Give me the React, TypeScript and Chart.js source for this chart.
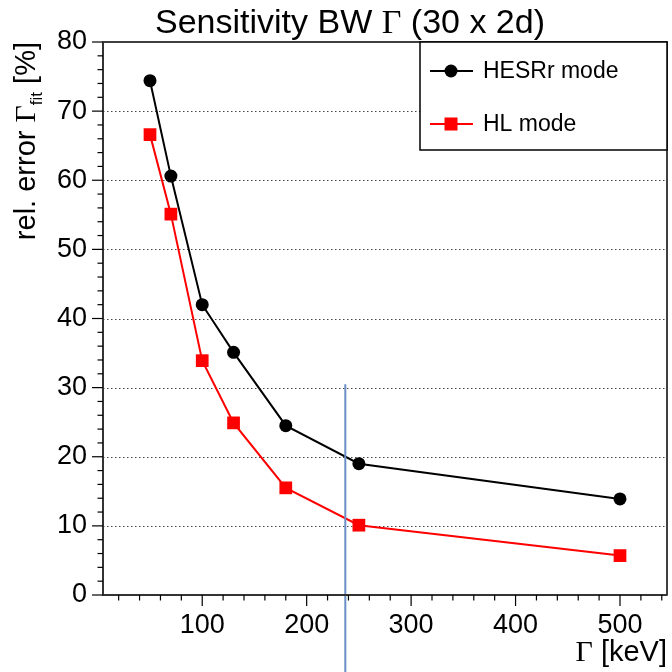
import React, { useEffect, useRef } from "react";
import { Chart, registerables } from "chart.js";

Chart.register(...registerables);

// ---- data ----
const GAMMA_KEV = [50, 70, 100, 130, 180, 250, 500];
const HESRR_MODE = [74.4, 60.6, 42.0, 35.1, 24.5, 19.0, 13.9];
const HL_MODE = [66.6, 55.1, 33.9, 24.9, 15.5, 10.1, 5.7];
const X_TICKS = [100, 200, 300, 400, 500];
const Y_TICKS = [0, 10, 20, 30, 40, 50, 60, 70, 80];
const CUT_LINE = { x: 237, yTop: 30.5, yBottom: -12 };
const SERIES_NAMES = ["HESRr mode", "HL mode"];

const SANS = "'Liberation Sans', Arial, Helvetica, sans-serif";
const SERIF = "'Liberation Serif', 'DejaVu Serif', serif";

type Seg = { t: string; font: string; dy?: number };

function segWidth(ctx: CanvasRenderingContext2D, segs: Seg[]) {
  let w = 0;
  for (const s of segs) {
    ctx.font = s.font;
    w += ctx.measureText(s.t).width;
  }
  return w;
}
function drawSegs(ctx: CanvasRenderingContext2D, segs: Seg[], x: number, y: number) {
  let cx = x;
  ctx.textAlign = "left";
  ctx.textBaseline = "alphabetic";
  for (const s of segs) {
    ctx.font = s.font;
    ctx.fillText(s.t, cx, y + (s.dy || 0));
    cx += ctx.measureText(s.t).width;
  }
}

const rootDecor = {
  id: "rootDecor",
  beforeDraw(chart: any) {
    const { ctx, width, height } = chart;
    ctx.save();
    ctx.fillStyle = "#ffffff";
    ctx.fillRect(0, 0, width, height);
    ctx.restore();
  },
  beforeDatasetsDraw(chart: any) {
    const { ctx, chartArea: a, scales } = chart;
    const ys = scales.y;
    ctx.save();
    ctx.strokeStyle = "#444";
    ctx.lineWidth = 1;
    ctx.setLineDash([1.5, 2.5]);
    for (const v of Y_TICKS) {
      if (v === 0 || v === 80) continue;
      const py = Math.round(ys.getPixelForValue(v)) + 0.5;
      ctx.beginPath();
      ctx.moveTo(a.left, py);
      ctx.lineTo(a.right, py);
      ctx.stroke();
    }
    ctx.restore();
  },
  afterDatasetsDraw(chart: any) {
    const { ctx, chartArea: a, scales } = chart;
    const xs = scales.x;
    const ys = scales.y;
    ctx.save();

    // cut line
    ctx.strokeStyle = "#6a8fc6";
    ctx.lineWidth = 2;
    const cx = xs.getPixelForValue(CUT_LINE.x);
    ctx.beginPath();
    ctx.moveTo(cx, ys.getPixelForValue(CUT_LINE.yBottom));
    ctx.lineTo(cx, ys.getPixelForValue(CUT_LINE.yTop));
    ctx.stroke();

    // frame
    ctx.strokeStyle = "#000";
    ctx.lineWidth = 1.5;
    ctx.strokeRect(a.left, a.top, a.right - a.left, a.bottom - a.top);
    ctx.strokeStyle = "#333";
    ctx.lineWidth = 2;
    ctx.beginPath();
    ctx.moveTo(a.left, a.top);
    ctx.lineTo(a.left, a.bottom);
    ctx.lineTo(a.right, a.bottom);
    ctx.stroke();

    // x ticks (major every 100, minor every 20), pointing down
    ctx.lineWidth = 1.2;
    ctx.strokeStyle = "#000";
    for (let v = 20; v <= 540; v += 20) {
      const px = xs.getPixelForValue(v);
      const len = v % 100 === 0 ? 11 : 5.5;
      ctx.beginPath();
      ctx.moveTo(px, a.bottom);
      ctx.lineTo(px, a.bottom + len);
      ctx.stroke();
    }
    // y ticks (major every 10, minor every 2), pointing left
    for (let v = 0; v <= 80; v += 2) {
      const py = ys.getPixelForValue(v);
      const len = v % 10 === 0 ? 11 : 5.5;
      ctx.beginPath();
      ctx.moveTo(a.left, py);
      ctx.lineTo(a.left - len, py);
      ctx.stroke();
    }

    ctx.fillStyle = "#000";
    // title
    const titleSegs: Seg[] = [
      { t: "Sensitivity BW ", font: `34px ${SANS}` },
      { t: "Γ", font: `34px ${SERIF}` },
      { t: " (30 x 2d)", font: `34px ${SANS}` },
    ];
    const tw = segWidth(ctx, titleSegs);
    drawSegs(ctx, titleSegs, 350 - tw / 2, 33);

    // x title
    const xSegs: Seg[] = [
      { t: "Γ", font: `30px ${SERIF}` },
      { t: " [keV]", font: `29px ${SANS}` },
    ];
    const xw = segWidth(ctx, xSegs);
    drawSegs(ctx, xSegs, 667 - xw, 661);

    // y title (rotated)
    const ySegs: Seg[] = [
      { t: "rel. error ", font: `29px ${SANS}` },
      { t: "Γ", font: `30px ${SERIF}` },
      { t: "fit", font: `17px ${SANS}`, dy: 7 },
      { t: " [%]", font: `29px ${SANS}` },
    ];
    const yw = segWidth(ctx, ySegs);
    ctx.save();
    ctx.translate(35, 42);
    ctx.rotate(-Math.PI / 2);
    drawSegs(ctx, ySegs, -yw, 0);
    ctx.restore();

    // legend
    const L = { x: 420, y: a.top, w: a.right - 420, h: 150 - a.top };
    ctx.fillStyle = "#fff";
    ctx.fillRect(L.x, L.y, L.w, L.h);
    ctx.strokeStyle = "#000";
    ctx.lineWidth = 1.5;
    ctx.strokeRect(L.x, L.y, L.w, L.h);
    const entries = [
      { name: SERIES_NAMES[0], color: "#000000", style: "circle", y: 71 },
      { name: SERIES_NAMES[1], color: "#ff0000", style: "rect", y: 124 },
    ];
    for (const e of entries) {
      ctx.strokeStyle = e.color;
      ctx.lineWidth = 2;
      ctx.beginPath();
      ctx.moveTo(430, e.y);
      ctx.lineTo(473, e.y);
      ctx.stroke();
      ctx.fillStyle = e.color;
      if (e.style === "circle") {
        ctx.beginPath();
        ctx.arc(451, e.y, 6.5, 0, Math.PI * 2);
        ctx.fill();
      } else {
        ctx.fillRect(451 - 6.5, e.y - 6.5, 13, 13);
      }
      ctx.fillStyle = "#000";
      ctx.font = `23px ${SANS}`;
      ctx.textAlign = "left";
      ctx.textBaseline = "middle";
      ctx.fillText(e.name, 483, e.y + 1);
    }
    ctx.restore();
  },
};

export default function App() {
  const ref = useRef<HTMLCanvasElement | null>(null);
  useEffect(() => {
    document.body.style.margin = "0";
    const canvas = ref.current!;
    const chart = new Chart(canvas, {
      type: "line",
      data: {
        datasets: [
          {
            label: SERIES_NAMES[0],
            data: GAMMA_KEV.map((x, i) => ({ x, y: HESRR_MODE[i] })),
            borderColor: "#000000",
            backgroundColor: "#000000",
            borderWidth: 2,
            pointStyle: "circle",
            pointRadius: 6.5,
            pointBorderWidth: 0,
            tension: 0,
          },
          {
            label: SERIES_NAMES[1],
            data: GAMMA_KEV.map((x, i) => ({ x, y: HL_MODE[i] })),
            borderColor: "#ff0000",
            backgroundColor: "#ff0000",
            borderWidth: 2,
            pointStyle: "rect",
            pointRadius: 9,
            pointBorderWidth: 0,
            tension: 0,
          },
        ],
      },
      options: {
        responsive: false,
        animation: false,
        devicePixelRatio: 1,
        layout: { autoPadding: false, padding: { top: 42, right: 5, left: 0, bottom: 0 } },
        plugins: { legend: { display: false }, title: { display: false }, tooltip: { enabled: false } },
        scales: {
          x: {
            type: "linear",
            min: 5,
            max: 545,
            afterBuildTicks: (s: any) => {
              s.ticks = X_TICKS.map((v) => ({ value: v }));
            },
            afterFit: (s: any) => {
              s.height = 77;
              s.paddingLeft = 0;
              s.paddingRight = 0;
            },
            grid: { display: false, drawTicks: false },
            border: { display: false },
            ticks: {
              color: "#000",
              padding: 14,
              maxRotation: 0,
              font: { family: SANS, size: 27 },
            },
          },
          y: {
            type: "linear",
            min: 0,
            max: 80,
            afterBuildTicks: (s: any) => {
              s.ticks = Y_TICKS.map((v) => ({ value: v }));
            },
            afterFit: (s: any) => {
              s.width = 103;
              s.paddingTop = 0;
              s.paddingBottom = 0;
            },
            grid: { display: false, drawTicks: false },
            border: { display: false },
            ticks: {
              color: "#000",
              padding: 16,
              font: { family: SANS, size: 27 },
            },
          },
        },
      },
      plugins: [rootDecor],
    } as any);
    return () => chart.destroy();
  }, []);
  return <canvas ref={ref} width={672} height={672} style={{ display: "block" }} />;
}
